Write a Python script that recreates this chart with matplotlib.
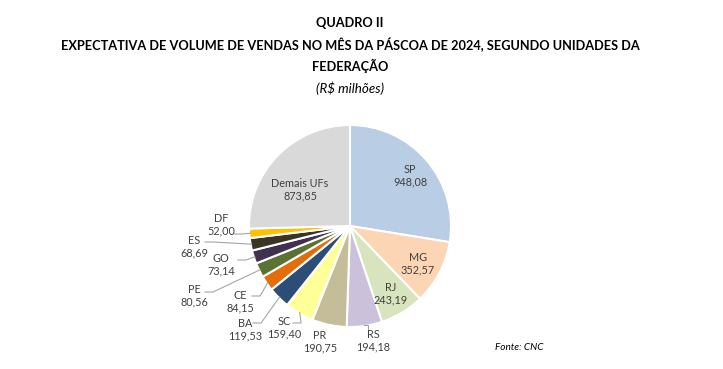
import matplotlib
matplotlib.use("Agg")
import matplotlib.pyplot as plt
import numpy as np

categories = ["SP", "MG", "RJ", "RS", "PR", "SC", "BA", "CE", "PE", "GO", "ES", "DF", "Demais UFs"]
values = [948.08, 352.57, 243.19, 194.18, 190.75, 159.40, 119.53, 84.15, 80.56, 73.14, 68.69, 52.00, 873.85]
colors = ["#b9cde5", "#fcd5b5", "#d7e4bd", "#ccc1da", "#c4bd97", "#ffff99", "#2c4d75",
          "#e46c0a", "#5a7332", "#403151", "#3b3424", "#ffc000", "#d9d9d9"]

title_lines = ["QUADRO II",
               "EXPECTATIVA DE VOLUME DE VENDAS NO MÊS DA PÁSCOA DE 2024, SEGUNDO UNIDADES DA",
               "FEDERAÇÃO"]
subtitle = "(R$ milhões)"
source = "Fonte: CNC"

plt.rcParams['font.family'] = ['Lato', 'DejaVu Sans']

W, H = 723, 369
fig = plt.figure(figsize=(W / 100, H / 100), dpi=100)

# pie center / radius in pixels
cx, cy, R = 350, 226, 101
ax = fig.add_axes([0, 0, 1, 1])
ax.axis("off")

wedges, _ = ax.pie(values, colors=colors, startangle=90, counterclock=False,
                   radius=1.0, wedgeprops=dict(edgecolor="white", linewidth=1.5))
ax.set_xlim(-cx / R, (W - cx) / R)
ax.set_ylim(-(H - cy) / R, cy / R)
ax.set_aspect("auto")

def P(px, py):
    return ((px - cx) / R, (cy - py) / R)

def fmt(v):
    return f"{v:.2f}".replace(".", ",")

# label layout: text center (pixels), optional leader start (pixels)
layout = {
    "SP": ((410, 176), None),
    "MG": ((418, 264), None),
    "RJ": ((391, 294), None),
    "Demais UFs": ((300, 190), None),
    "RS": ((373, 341), (368, 335)),
    "PR": ((320, 342), None),
    "SC": ((284, 328), (293, 323)),
    "BA": ((245, 330), (253, 323)),
    "CE": ((240, 302), (252, 296)),
    "PE": ((194, 296), (205, 292)),
    "GO": ((221, 265), (238, 260)),
    "ES": ((194, 247), (205, 242)),
    "DF": ((221, 225), (234, 234)),
}

fs = 7.8
for w, cat, v in zip(wedges, categories, values):
    (tx, ty), lead = layout[cat]
    x, y = P(tx, ty)
    ax.text(x, y, f"{cat}\n{fmt(v)}", ha="center", va="center", fontsize=fs,
            color="#404040", linespacing=1.2)
    if lead is not None:
        ang = np.deg2rad((w.theta1 + w.theta2) / 2)
        ex, ey = 0.99 * np.cos(ang), 0.99 * np.sin(ang)
        sx, sy = P(*lead)
        if cat == "RS":
            ax.plot([sx, sx, ex], [sy, ey, ey], color="#a6a6a6", lw=0.8)
        else:
            mx = sx + 0.08
            ax.plot([sx, mx, ex], [sy, sy, ey], color="#a6a6a6", lw=0.8)

# titles
tfs = 9.2
fig.text(cx / W, 1 - 23 / H, title_lines[0], ha="center", va="center", fontsize=tfs,
         fontweight="bold", color="black")
fig.text(cx / W, 1 - 45 / H, title_lines[1], ha="center", va="center", fontsize=tfs,
         fontweight="bold", color="black")
fig.text(cx / W, 1 - 66 / H, title_lines[2], ha="center", va="center", fontsize=tfs,
         fontweight="bold", color="black")
fig.text(cx / W, 1 - 88 / H, subtitle, ha="center", va="center", fontsize=9.6,
         style="italic", color="black")
fig.text(519 / W, 1 - 348 / H, source, ha="center", va="center", fontsize=7.2,
         style="italic", color="black")

fig.savefig("out.png", dpi=100, facecolor="white")
